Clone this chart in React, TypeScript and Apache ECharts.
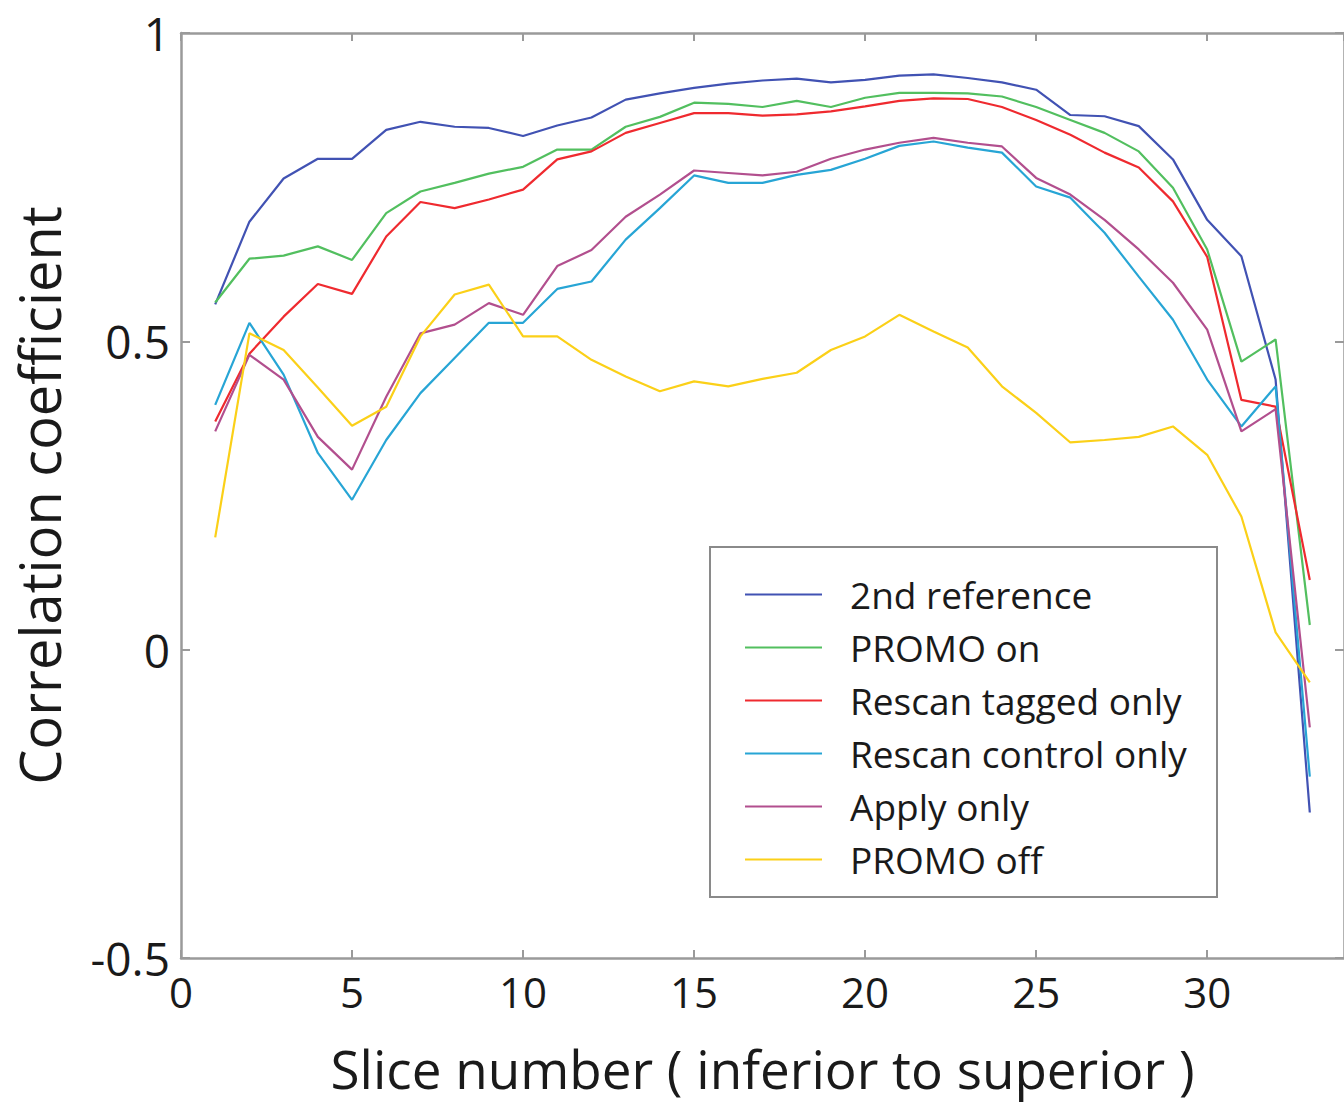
import React, { useEffect, useRef } from "react";
import * as echarts from "echarts";

const slices = [1,2,3,4,5,6,7,8,9,10,11,12,13,14,15,16,17,18,19,20,21,22,23,24,25,26,27,28,29,30,31,32,33];

const secondReference = [0.56,0.694,0.764,0.796,0.796,0.843,0.856,0.848,0.846,0.833,0.85,0.863,0.892,0.902,0.911,0.918,0.923,0.926,0.92,0.924,0.931,0.933,0.927,0.92,0.908,0.867,0.865,0.849,0.795,0.697,0.638,0.438,-0.264];
const promoOn = [0.563,0.634,0.639,0.654,0.632,0.708,0.743,0.757,0.772,0.783,0.811,0.811,0.848,0.864,0.887,0.885,0.88,0.89,0.88,0.895,0.903,0.903,0.902,0.897,0.88,0.859,0.838,0.808,0.749,0.649,0.467,0.503,0.04];
const rescanTagged = [0.37,0.48,0.54,0.593,0.577,0.67,0.726,0.716,0.73,0.746,0.795,0.808,0.838,0.854,0.87,0.87,0.866,0.868,0.873,0.881,0.89,0.894,0.893,0.88,0.859,0.835,0.806,0.782,0.727,0.637,0.405,0.394,0.113];
const rescanControl = [0.397,0.53,0.446,0.319,0.243,0.34,0.416,0.473,0.53,0.53,0.585,0.597,0.665,0.716,0.769,0.757,0.757,0.77,0.778,0.796,0.817,0.824,0.814,0.806,0.751,0.733,0.676,0.605,0.535,0.438,0.362,0.427,-0.206];
const applyOnly = [0.354,0.478,0.438,0.345,0.292,0.41,0.513,0.527,0.562,0.543,0.622,0.648,0.702,0.738,0.777,0.773,0.769,0.775,0.796,0.811,0.822,0.83,0.822,0.816,0.765,0.738,0.697,0.649,0.595,0.519,0.354,0.39,-0.126];
const promoOff = [0.182,0.513,0.486,0.425,0.363,0.394,0.508,0.576,0.592,0.508,0.508,0.47,0.443,0.419,0.435,0.427,0.439,0.449,0.486,0.508,0.543,0.516,0.49,0.427,0.384,0.336,0.34,0.345,0.362,0.316,0.216,0.028,-0.053];

const seriesNames = ["2nd reference", "PROMO on", "Rescan tagged only", "Rescan control only", "Apply only", "PROMO off"];
const seriesColors = ["#4152b3", "#52bf5f", "#ef2a2f", "#27a5d5", "#b24f8e", "#fbd018"];
const seriesValues = [secondReference, promoOn, rescanTagged, rescanControl, applyOnly, promoOff];

const FONT = "Open Sans";

export default function App() {
  const ref = useRef<HTMLDivElement>(null);
  useEffect(() => {
    const chart = echarts.init(ref.current!, null, { renderer: "svg" });
    const axisColor = "#9a9a9a";
    const baseX = {
      type: "value",
      min: 0,
      max: 34,
      interval: 5,
      axisLine: { show: true, onZero: false, lineStyle: { color: axisColor, width: 2.5 } },
      axisTick: { show: true, inside: true, length: 8, lineStyle: { color: axisColor, width: 2 } },
      splitLine: { show: false },
    };
    const baseY = {
      type: "value",
      min: -0.5,
      max: 1,
      interval: 0.5,
      axisLine: { show: true, onZero: false, lineStyle: { color: axisColor, width: 2.5 } },
      axisTick: { show: true, inside: true, length: 9, lineStyle: { color: axisColor, width: 2 } },
      splitLine: { show: false },
    };
    chart.setOption({
      animation: false,
      backgroundColor: "#ffffff",
      textStyle: { fontFamily: FONT },
      grid: { left: 181, top: 33, right: -7, bottom: 148, containLabel: false },
      xAxis: [
        {
          ...baseX,
          position: "bottom",
          name: "Slice number ( inferior to superior )",
          nameLocation: "middle",
          nameGap: 84,
          nameTextStyle: { fontSize: 53, lineHeight: 53, color: "#1a1a1a", fontFamily: FONT },
          axisLabel: { show: true, fontSize: 42, color: "#1a1a1a", margin: 12, showMaxLabel: false, fontFamily: FONT },
        },
        {
          ...baseX,
          position: "top",
          axisLabel: { show: false },
        },
      ],
      yAxis: [
        {
          ...baseY,
          position: "left",
          name: "Correlation coefficient",
          nameLocation: "middle",
          nameGap: 114,
          nameTextStyle: { fontSize: 56, color: "#1a1a1a", fontFamily: FONT },
          axisLabel: { show: true, fontSize: 46, color: "#1a1a1a", margin: 11, fontFamily: FONT },
        },
        {
          ...baseY,
          position: "right",
          axisLabel: { show: false },
        },
      ],
      legend: {
        show: true,
        orient: "vertical",
        left: 745,
        top: 576,
        itemWidth: 77,
        itemHeight: 2,
        itemGap: 16,
        icon: "rect",
        padding: 0,
        textStyle: { fontSize: 37, color: "#1a1a1a", fontFamily: FONT, padding: [0, 0, 0, 23], lineHeight: 37 },
        data: seriesNames,
      },
      graphic: [
        {
          type: "rect",
          shape: { x: 710, y: 547, width: 507, height: 350 },
          style: { fill: "#ffffff", stroke: "#8a8a8a", lineWidth: 2 },
          z: 0,
          zlevel: 0,
        },
      ],
      series: seriesNames.map((name, i) => ({
        name,
        type: "line",
        xAxisIndex: 0,
        yAxisIndex: 0,
        data: slices.map((s, k) => [s, seriesValues[i][k]]),
        showSymbol: false,
        symbol: "none",
        color: seriesColors[i],
        lineStyle: { color: seriesColors[i], width: 2.2 },
        z: 5,
      })),
    });
    return () => chart.dispose();
  }, []);
  return <div ref={ref} style={{ position: "absolute", left: 0, top: 0, width: 1344, height: 1106 }} />;
}
